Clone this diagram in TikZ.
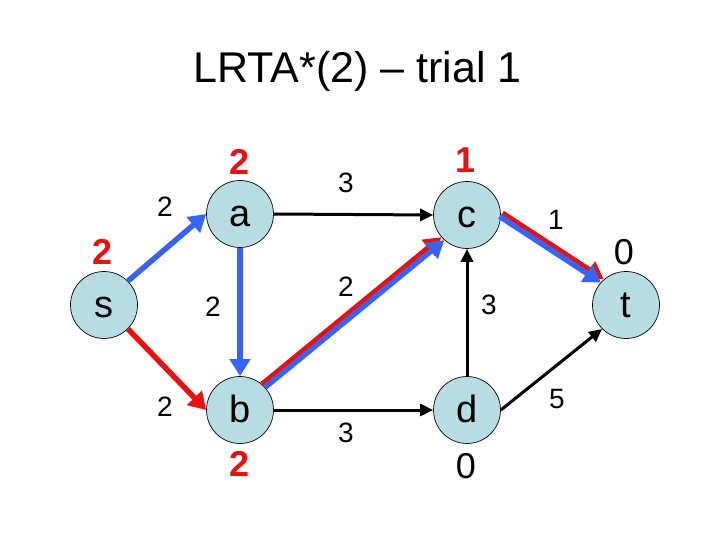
\documentclass[tikz,border=0pt]{standalone}
\usepackage{fontspec}
\setmainfont{Liberation Sans}
\usetikzlibrary{arrows.meta}

\definecolor{fondetat}{RGB}{183,221,226}
\definecolor{bleu}{RGB}{55,100,245}
\definecolor{rouge}{RGB}{235,15,15}

\tikzset{
    etat/.style={draw, circle, fill=fondetat, line width=0.7pt, minimum size=67pt, inner sep=0pt,
        font=\fontsize{38}{40}\selectfont, text height=25pt, text depth=0pt},
    cout/.style={font=\fontsize{28}{30}\selectfont},
    hval/.style={font=\fontsize{36}{38}\selectfont\bfseries, text=rouge},
    hzero/.style={font=\fontsize{36}{38}\selectfont},
    arc/.style={line width=3pt, -{Triangle[length=13pt,width=12pt]}},
    passe/.style={line width=5.5pt, -{Triangle[length=17pt,width=20pt]}}
}

\begin{document}
\begin{tikzpicture}[x=1pt, y=-1pt]
    \useasboundingbox[fill=white] (0,0) rectangle (720,540);

    % Titre
    \node[anchor=base, font=\fontsize{43}{48}\selectfont] (titre) at (357.5,83) {LRTA*(2) -- trial 1};

    % Etats
    \node[etat] (s) at (104,305) {s};
    \node[etat] (a) at (240,214) {a};
    \node[etat] (b) at (240,410) {b};
    \node[etat] (c) at (467,215) {c};
    \node[etat] (d) at (467,410) {d};
    \node[etat] (t) at (626,305) {t};

    % Valeurs h
    \node[hval] (hs) at (103,252) {2};
    \node[hval] (ha) at (240,162) {2};
    \node[hval] (hb) at (240,464) {2};
    \node[hval] (hc) at (466,160) {1};
    \node[hzero] (hd) at (466,466) {0};
    \node[hzero] (ht) at (624,252) {0};

    % Arcs
    \draw[arc] (a.east) -- (c.west);
    \draw[arc] (b.east) -- (d.west);
    \draw[arc] (d.north) -- (c.south);
    \draw[arc] (d.east) -- (t.south west);

    % Chemins suivis
    \draw[passe, bleu] (s.45) -- (a.west);
    \draw[passe, rouge] (s.-45) -- (b.west);
    \draw[passe, bleu] (a.south) -- (b.north);
    \draw[passe, rouge, transform canvas={xshift=-1.8pt, yshift=1.8pt}] (b.north east) -- (c.south west);
    \draw[passe, bleu, transform canvas={xshift=1.2pt, yshift=-1.2pt}] (b.north east) -- (c.south west);
    \draw[passe, rouge, transform canvas={xshift=1.6pt, yshift=1.8pt}] (c.east) -- (t.north west);
    \draw[passe, bleu, transform canvas={xshift=-1.2pt, yshift=-1.4pt}] (c.east) -- (t.north west);

    % Couts
    \node[cout] (csa) at (165,207) {2};
    \node[cout] (csb) at (165,407) {2};
    \node[cout] (cab) at (213,307) {2};
    \node[cout] (cac) at (346,183) {3};
    \node[cout] (cbc) at (346,287) {2};
    \node[cout] (cbd) at (346,433) {3};
    \node[cout] (cdc) at (489,305) {3};
    \node[cout] (cct) at (556,220) {1};
    \node[cout] (cdt) at (557,399) {5};
\end{tikzpicture}
\end{document}
